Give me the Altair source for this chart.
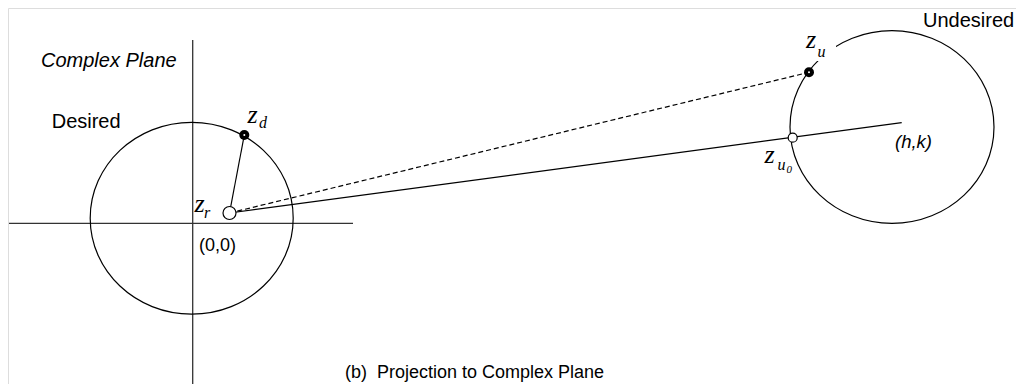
import altair as alt
import pandas as pd

# ---- figure geometry (screen-pixel coordinates) ----
circle_name = ["Desired", "Undesired"]
circle_cx = [191.7, 892.0]
circle_cy = [218.2, 127.0]
circle_diam = [203, 204]

axis_name = ["real", "imag"]
axis_x1 = [9.0, 192.7]
axis_y1 = [223.3, 40.0]
axis_x2 = [353.0, 192.7]
axis_y2 = [223.3, 392.0]

point_name = ["z_r", "z_d", "z_u", "z_u0", "hk"]
point_x = [229.5, 244.3, 809.0, 792.7, 901.7]
point_y = [213.0, 135.0, 72.3, 137.7, 122.7]

solid_from = ["z_r", "z_r"]
solid_to = ["z_d", "hk"]
dashed_from = ["z_r"]
dashed_to = ["z_u"]

open_pts = ["z_r", "z_u0"]
open_diam = [13, 9]
dot_pts = ["z_d", "z_u"]

sans_text = ["Desired", "(0,0)", "Undesired", "(b)\u00a0 Projection to Complex Plane"]
sans_x = [51.7, 199.0, 923.0, 345.0]
sans_y = [128.3, 250.7, 26.7, 378.3]
sans_size = [20, 18, 20, 18]

ital_text = ["Complex Plane", "(h,k)"]
ital_x = [41.0, 895.0]
ital_y = [66.7, 148.3]
ital_size = [20, 18.5]

math_text = ["z", "d", "z", "r", "z", "u", "z", "u", "0"]
math_x = [247.5, 259.0, 194.5, 204.0, 806.0, 817.5, 764.5, 777.5, 786.5]
math_y = [122.5, 128.3, 211.7, 218.3, 48.3, 56.7, 162.7, 170.0, 173.3]
math_size = [26, 16, 26, 16, 26, 16, 26, 16, 11]

# label background (the circle is interrupted behind the z_u label)
mask_x = [826.0]
mask_y = [51.0]
mask_side = [20]

# ---- tables ----
pts = dict(zip(point_name, zip(point_x, point_y)))
circles = pd.DataFrame({"name": circle_name, "x": circle_cx, "y": circle_cy,
                        "s": [d * d for d in circle_diam]})
axes = pd.DataFrame({"name": axis_name, "x": axis_x1, "y": axis_y1, "x2": axis_x2, "y2": axis_y2})
solid = pd.DataFrame({"x": [pts[a][0] for a in solid_from], "y": [pts[a][1] for a in solid_from],
                      "x2": [pts[b][0] for b in solid_to], "y2": [pts[b][1] for b in solid_to]})
dashed = pd.DataFrame({"x": [pts[a][0] for a in dashed_from], "y": [pts[a][1] for a in dashed_from],
                       "x2": [pts[b][0] for b in dashed_to], "y2": [pts[b][1] for b in dashed_to]})
opens = pd.DataFrame({"x": [pts[p][0] for p in open_pts], "y": [pts[p][1] for p in open_pts],
                      "s": [d * d for d in open_diam]})
dots = pd.DataFrame({"x": [pts[p][0] for p in dot_pts], "y": [pts[p][1] for p in dot_pts]})
mask = pd.DataFrame({"x": mask_x, "y": mask_y, "s": [m * m for m in mask_side]})
sans = pd.DataFrame({"t": sans_text, "x": sans_x, "y": sans_y, "fs": sans_size})
ital = pd.DataFrame({"t": ital_text, "x": ital_x, "y": ital_y, "fs": ital_size})
math = pd.DataFrame({"t": math_text, "x": math_x, "y": math_y, "fs": math_size})

W, H = 1008, 376
XS = alt.Scale(domain=[8, 8 + W], nice=False, zero=False)
YS = alt.Scale(domain=[8, 8 + H], nice=False, zero=False, reverse=True)


def X(f="x"):
    return alt.X(f"{f}:Q", scale=XS, axis=None)


def Y(f="y"):
    return alt.Y(f"{f}:Q", scale=YS, axis=None)


ELLIPSE = "M-1,0A1,0.945,0,1,1,1,0A1,0.945,0,1,1,-1,0Z"

ellipse_layer = alt.Chart(circles).mark_point(
    shape=ELLIPSE, filled=False, stroke="black", strokeWidth=1.2, opacity=1
).encode(x=X(), y=Y(), size=alt.Size("s:Q", scale=None, legend=None))

axis_layer = alt.Chart(axes).mark_rule(color="#333", strokeWidth=1.3).encode(
    x=X(), y=Y(), x2="x2:Q", y2="y2:Q")

solid_layer = alt.Chart(solid).mark_rule(color="black", strokeWidth=1.2).encode(
    x=X(), y=Y(), x2="x2:Q", y2="y2:Q")

dashed_layer = alt.Chart(dashed).mark_rule(color="black", strokeWidth=1.2, strokeDash=[5, 3]).encode(
    x=X(), y=Y(), x2="x2:Q", y2="y2:Q")

mask_layer = alt.Chart(mask).mark_point(
    shape="square", filled=True, fill="white", strokeWidth=0, opacity=1
).encode(x=X(), y=Y(), size=alt.Size("s:Q", scale=None, legend=None))

open_layer = alt.Chart(opens).mark_point(
    shape="circle", filled=True, fill="white", stroke="black", strokeWidth=1.2, opacity=1
).encode(x=X(), y=Y(), size=alt.Size("s:Q", scale=None, legend=None))

dot_layer = alt.Chart(dots).mark_point(
    shape="circle", filled=True, color="black", size=100, opacity=1
).encode(x=X(), y=Y())

dot_center = alt.Chart(dots).mark_point(
    shape="circle", filled=True, color="white", size=4, opacity=1
).encode(x=X(), y=Y())

sans_layer = alt.Chart(sans).mark_text(
    font="Liberation Sans", align="left", baseline="alphabetic", color="black"
).encode(x=X(), y=Y(), text="t:N", size=alt.Size("fs:Q", scale=None, legend=None))

ital_layer = alt.Chart(ital).mark_text(
    font="Liberation Sans", fontStyle="italic", align="left", baseline="alphabetic", color="black"
).encode(x=X(), y=Y(), text="t:N", size=alt.Size("fs:Q", scale=None, legend=None))

math_layer = alt.Chart(math).mark_text(
    font="Liberation Serif", fontStyle="italic", align="left", baseline="alphabetic", color="black"
).encode(x=X(), y=Y(), text="t:N", size=alt.Size("fs:Q", scale=None, legend=None))

chart = alt.layer(
    axis_layer, ellipse_layer, solid_layer, dashed_layer, mask_layer,
    open_layer, dot_layer, dot_center, sans_layer, ital_layer, math_layer
).properties(
    width=W, height=H, padding=0, autosize=alt.AutoSizeParams(type="none")
).configure_view(stroke=None).configure(background="white")

chart.save("out.html", embed_options={"renderer": "svg", "actions": False})
